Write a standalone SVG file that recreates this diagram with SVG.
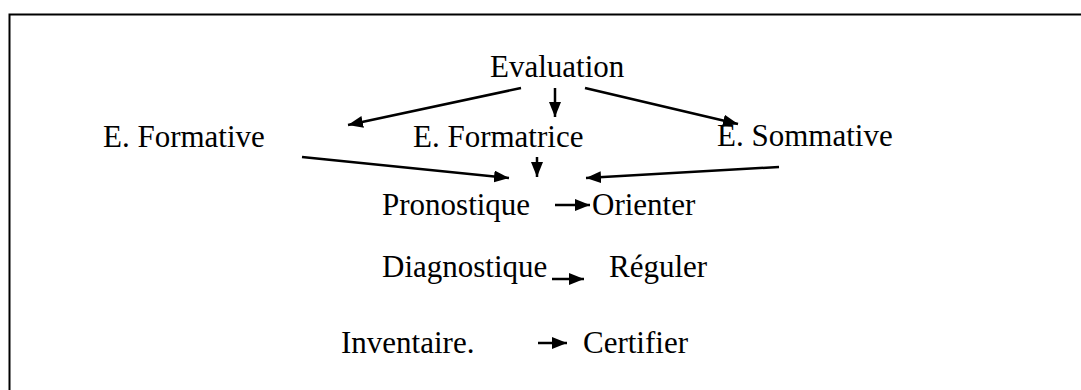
<svg xmlns="http://www.w3.org/2000/svg" width="1081" height="390" viewBox="0 0 1081 390">
<style>
.t{font-family:'Liberation Serif',serif;font-size:31px;fill:#000}
.c{stroke:#000;stroke-width:2.5;fill:none}
</style>
<defs>
<marker id="ah" viewBox="0 0 15 12" refX="15" refY="6" markerWidth="15" markerHeight="12" markerUnits="userSpaceOnUse" orient="auto">
<path d="M0,0 L15,6 L0,12 z" fill="#000"/>
</marker>
</defs>
<rect width="1081" height="390" fill="#fff"/>
<path d="M9.5,390 V14.5 H1081" fill="none" stroke="#000" stroke-width="2"/>
<g id="evaluation"><text class="t" x="490" y="77">Evaluation</text></g>
<g id="formative"><text class="t" x="103" y="147">E. Formative</text></g>
<g id="formatrice"><text class="t" x="413" y="147">E. Formatrice</text></g>
<g id="sommative"><text class="t" x="717" y="146">E. Sommative</text></g>
<g id="pronostique"><text class="t" x="382" y="215">Pronostique</text></g>
<g id="orienter"><text class="t" x="592" y="215">Orienter</text></g>
<g id="diagnostique"><text class="t" x="382" y="277">Diagnostique</text></g>
<g id="reguler"><text class="t" x="609" y="277">Réguler</text></g>
<g id="inventaire"><text class="t" x="341" y="353">Inventaire.</text></g>
<g id="certifier"><text class="t" x="583" y="353">Certifier</text></g>
<g id="connectors" class="c">
<line x1="521" y1="88" x2="348" y2="125" marker-end="url(#ah)"/>
<line x1="555" y1="88" x2="555" y2="117" marker-end="url(#ah)"/>
<line x1="585" y1="88" x2="738" y2="124" marker-end="url(#ah)"/>
<line x1="537" y1="157" x2="537" y2="177" marker-end="url(#ah)"/>
<line x1="302" y1="157" x2="509" y2="178" marker-end="url(#ah)"/>
<line x1="779" y1="167" x2="586" y2="178" marker-end="url(#ah)"/>
<line x1="555" y1="205" x2="590" y2="205" marker-end="url(#ah)"/>
<line x1="552" y1="279" x2="584" y2="279" marker-end="url(#ah)"/>
<line x1="538" y1="343" x2="567" y2="343" marker-end="url(#ah)"/>
</g>
</svg>
